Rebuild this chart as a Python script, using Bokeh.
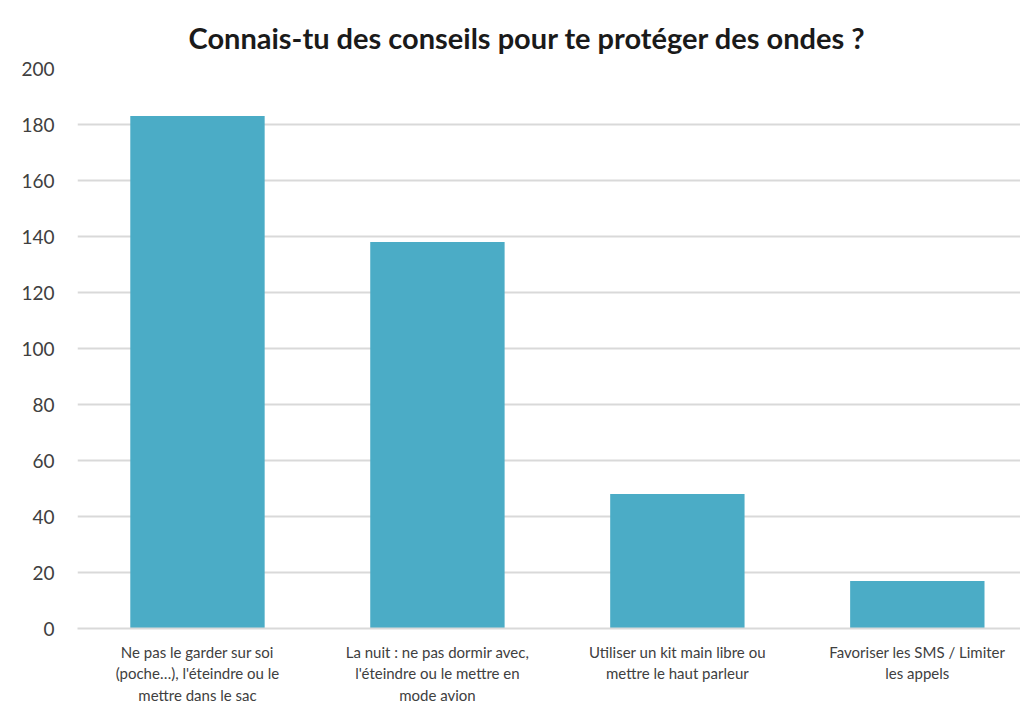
from bokeh.plotting import figure
from bokeh.models import Range1d, FixedTicker, Title
from bokeh.embed import file_html
from bokeh.resources import INLINE

categories = [
    "Ne pas le garder sur soi\n(poche…), l'éteindre ou le\nmettre dans le sac",
    "La nuit : ne pas dormir avec,\nl'éteindre ou le mettre en\nmode avion",
    "Utiliser un kit main libre ou\nmettre le haut parleur",
    "Favoriser les SMS / Limiter\nles appels",
]
values = [183, 138, 48, 17]
y_ticks = [0, 20, 40, 60, 80, 100, 120, 140, 160, 180, 200]

xs = list(range(len(categories)))

p = figure(width=1020, height=706, output_backend="svg", toolbar_location=None,
           x_range=Range1d(-0.5, 3.43), y_range=Range1d(0, 200),
           min_border_left=77, min_border_right=0, min_border_top=68, min_border_bottom=78)
p.title = Title(text="Connais-tu des conseils pour te protéger des ondes ?",
                text_font="Lato", text_font_size="29px", text_font_style="bold",
                text_color="#1a1a1a", align="left", offset=111, standoff=27)
p.outline_line_color = None
p.background_fill_color = "white"
p.border_fill_color = "white"

p.vbar(x=xs, top=values, width=0.56, bottom=0, fill_color="#4BACC6", line_color=None)

p.xgrid.grid_line_color = None
p.ygrid.grid_line_color = "#d9d9d9"
p.ygrid.grid_line_width = 2
p.ygrid.ticker = FixedTicker(ticks=y_ticks)

p.yaxis.ticker = FixedTicker(ticks=y_ticks)
p.yaxis.axis_line_color = None
p.yaxis.major_tick_line_color = None
p.yaxis.minor_tick_line_color = None
p.yaxis.major_label_text_font = "Lato"
p.yaxis.major_label_text_font_size = "19px"
p.yaxis.major_label_text_color = "#404040"
p.yaxis.major_label_standoff = 17

p.xaxis.ticker = FixedTicker(ticks=xs)
p.xaxis.major_label_overrides = {i: c for i, c in zip(xs, categories)}
p.xaxis.axis_line_color = "#d9d9d9"
p.xaxis.axis_line_width = 2
p.xaxis.major_tick_line_color = None
p.xaxis.minor_tick_line_color = None
p.xaxis.major_label_text_font = "Lato"
p.xaxis.major_label_text_font_size = "15px"
p.xaxis.major_label_text_color = "#404040"
p.xaxis.major_label_standoff = 8

open("out.html", "w").write(file_html(p, INLINE))
